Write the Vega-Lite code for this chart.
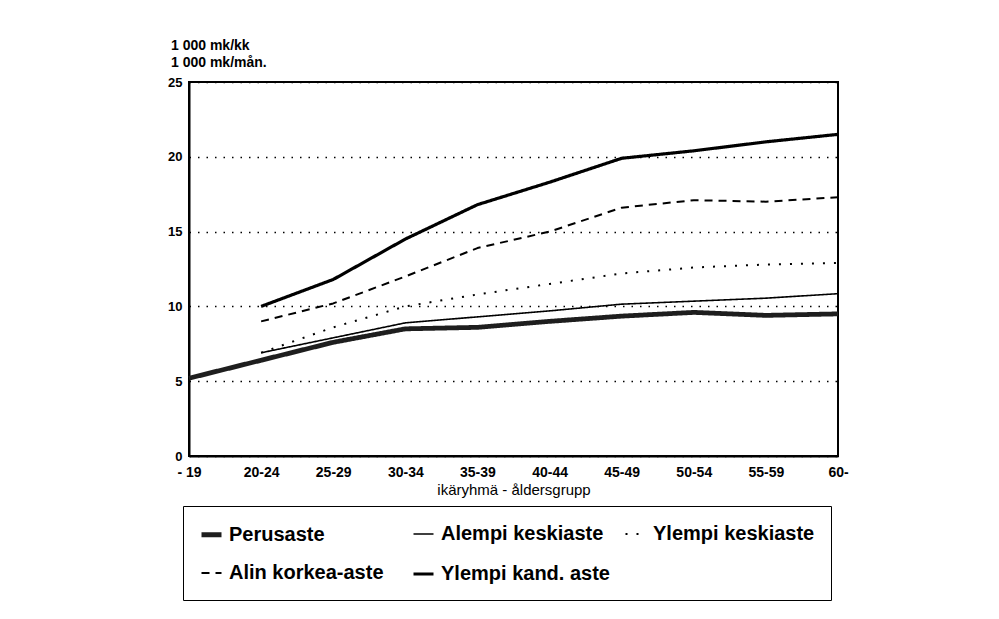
{
  "$schema": "https://vega.github.io/schema/vega-lite/v6.json",
  "width": 649,
  "height": 374,
  "autosize": "none",
  "padding": {"left": 189, "top": 82, "right": 161, "bottom": 163},
  "background": "white",
  "title": {
    "text": ["1 000 mk/kk", "1 000 mk/mån."],
    "anchor": "start",
    "frame": "group",
    "dx": -18,
    "offset": 6,
    "font": "Liberation Sans",
    "fontSize": 14,
    "fontWeight": "bold",
    "lineHeight": 17,
    "color": "black"
  },
  "data": {
    "values": [
      {"ika": "- 19", "sarja": "Perusaste", "arvo": 5.2},
      {"ika": "20-24", "sarja": "Perusaste", "arvo": 6.4},
      {"ika": "25-29", "sarja": "Perusaste", "arvo": 7.6},
      {"ika": "30-34", "sarja": "Perusaste", "arvo": 8.5},
      {"ika": "35-39", "sarja": "Perusaste", "arvo": 8.6},
      {"ika": "40-44", "sarja": "Perusaste", "arvo": 9.0},
      {"ika": "45-49", "sarja": "Perusaste", "arvo": 9.35},
      {"ika": "50-54", "sarja": "Perusaste", "arvo": 9.6},
      {"ika": "55-59", "sarja": "Perusaste", "arvo": 9.4},
      {"ika": "60-", "sarja": "Perusaste", "arvo": 9.5},
      {"ika": "20-24", "sarja": "Alempi keskiaste", "arvo": 6.9},
      {"ika": "25-29", "sarja": "Alempi keskiaste", "arvo": 7.9},
      {"ika": "30-34", "sarja": "Alempi keskiaste", "arvo": 8.9},
      {"ika": "35-39", "sarja": "Alempi keskiaste", "arvo": 9.3},
      {"ika": "40-44", "sarja": "Alempi keskiaste", "arvo": 9.7},
      {"ika": "45-49", "sarja": "Alempi keskiaste", "arvo": 10.15},
      {"ika": "50-54", "sarja": "Alempi keskiaste", "arvo": 10.35},
      {"ika": "55-59", "sarja": "Alempi keskiaste", "arvo": 10.55},
      {"ika": "60-", "sarja": "Alempi keskiaste", "arvo": 10.85},
      {"ika": "20-24", "sarja": "Ylempi keskiaste", "arvo": 6.9},
      {"ika": "25-29", "sarja": "Ylempi keskiaste", "arvo": 8.6},
      {"ika": "30-34", "sarja": "Ylempi keskiaste", "arvo": 10.0},
      {"ika": "35-39", "sarja": "Ylempi keskiaste", "arvo": 10.8},
      {"ika": "40-44", "sarja": "Ylempi keskiaste", "arvo": 11.5},
      {"ika": "45-49", "sarja": "Ylempi keskiaste", "arvo": 12.2},
      {"ika": "50-54", "sarja": "Ylempi keskiaste", "arvo": 12.6},
      {"ika": "55-59", "sarja": "Ylempi keskiaste", "arvo": 12.8},
      {"ika": "60-", "sarja": "Ylempi keskiaste", "arvo": 12.9},
      {"ika": "20-24", "sarja": "Alin korkea-aste", "arvo": 9.0},
      {"ika": "25-29", "sarja": "Alin korkea-aste", "arvo": 10.2},
      {"ika": "30-34", "sarja": "Alin korkea-aste", "arvo": 12.0},
      {"ika": "35-39", "sarja": "Alin korkea-aste", "arvo": 13.9},
      {"ika": "40-44", "sarja": "Alin korkea-aste", "arvo": 15.0},
      {"ika": "45-49", "sarja": "Alin korkea-aste", "arvo": 16.6},
      {"ika": "50-54", "sarja": "Alin korkea-aste", "arvo": 17.1},
      {"ika": "55-59", "sarja": "Alin korkea-aste", "arvo": 17.0},
      {"ika": "60-", "sarja": "Alin korkea-aste", "arvo": 17.3},
      {"ika": "20-24", "sarja": "Ylempi kand. aste", "arvo": 10.0},
      {"ika": "25-29", "sarja": "Ylempi kand. aste", "arvo": 11.8},
      {"ika": "30-34", "sarja": "Ylempi kand. aste", "arvo": 14.5},
      {"ika": "35-39", "sarja": "Ylempi kand. aste", "arvo": 16.8},
      {"ika": "40-44", "sarja": "Ylempi kand. aste", "arvo": 18.3},
      {"ika": "45-49", "sarja": "Ylempi kand. aste", "arvo": 19.9},
      {"ika": "50-54", "sarja": "Ylempi kand. aste", "arvo": 20.4},
      {"ika": "55-59", "sarja": "Ylempi kand. aste", "arvo": 21.0},
      {"ika": "60-", "sarja": "Ylempi kand. aste", "arvo": 21.5}
    ]
  },
  "mark": {"type": "line", "strokeCap": "butt", "strokeJoin": "round"},
  "encoding": {
    "x": {
      "field": "ika",
      "type": "ordinal",
      "sort": ["- 19", "20-24", "25-29", "30-34", "35-39", "40-44", "45-49", "50-54", "55-59", "60-"],
      "scale": {"type": "point", "padding": 0},
      "title": "ikäryhmä - åldersgrupp",
      "axis": {
        "labelAngle": 0,
        "tickSize": 0,
        "labelPadding": 9,
        "labelFont": "Liberation Sans",
        "labelFontSize": 14,
        "labelFontWeight": "bold",
        "labelColor": "black",
        "titleFont": "Liberation Sans",
        "titleFontSize": 15,
        "titleFontWeight": "normal",
        "titleColor": "black",
        "titlePadding": 3,
        "domainColor": "black",
        "domainWidth": 2,
        "grid": false
      }
    },
    "y": {
      "field": "arvo",
      "type": "quantitative",
      "scale": {"domain": [0, 25], "nice": false},
      "title": null,
      "axis": {
        "values": [0, 5, 10, 15, 20, 25],
        "tickSize": 0,
        "labelPadding": 7,
        "labelFont": "Liberation Sans",
        "labelFontSize": 13,
        "labelFontWeight": "bold",
        "labelColor": "black",
        "domainColor": "black",
        "domainWidth": 2,
        "grid": true,
        "gridColor": "black",
        "gridWidth": 1.5,
        "gridDash": [1.5, 7]
      }
    },
    "color": {
      "field": "sarja",
      "type": "nominal",
      "title": null,
      "scale": {
        "domain": ["Perusaste", "Alempi keskiaste", "Ylempi keskiaste", "Alin korkea-aste", "Ylempi kand. aste"],
        "range": ["#1e1e1e", "black", "black", "black", "black"]
      },
      "legend": {
        "orient": "none",
        "legendX": -6,
        "legendY": 424,
        "direction": "horizontal",
        "columns": 3,
        "gridAlign": "all",
        "columnPadding": 9,
        "rowPadding": 17,
        "padding": 16,
        "strokeColor": "black",
        "symbolType": "stroke",
        "symbolSize": 400,
        "symbolStrokeWidth": 2,
        "labelFont": "Liberation Sans",
        "labelFontSize": 20,
        "labelFontWeight": "bold",
        "labelColor": "black",
        "labelLimit": 300,
        "labelOffset": 5
      }
    },
    "strokeDash": {
      "field": "sarja",
      "type": "nominal",
      "title": null,
      "scale": {
        "type": "ordinal",
        "domain": ["Perusaste", "Alempi keskiaste", "Ylempi keskiaste", "Alin korkea-aste", "Ylempi kand. aste"],
        "range": [[1, 0], [1, 0], [2, 9], [8, 6], [1, 0]]
      }
    },
    "strokeWidth": {
      "field": "sarja",
      "type": "nominal",
      "title": null,
      "scale": {
        "type": "ordinal",
        "domain": ["Perusaste", "Alempi keskiaste", "Ylempi keskiaste", "Alin korkea-aste", "Ylempi kand. aste"],
        "range": [4.8, 1.6, 2, 2, 3.2]
      }
    }
  },
  "config": {
    "view": {"stroke": "black", "strokeWidth": 2},
    "font": "Liberation Sans"
  }
}
